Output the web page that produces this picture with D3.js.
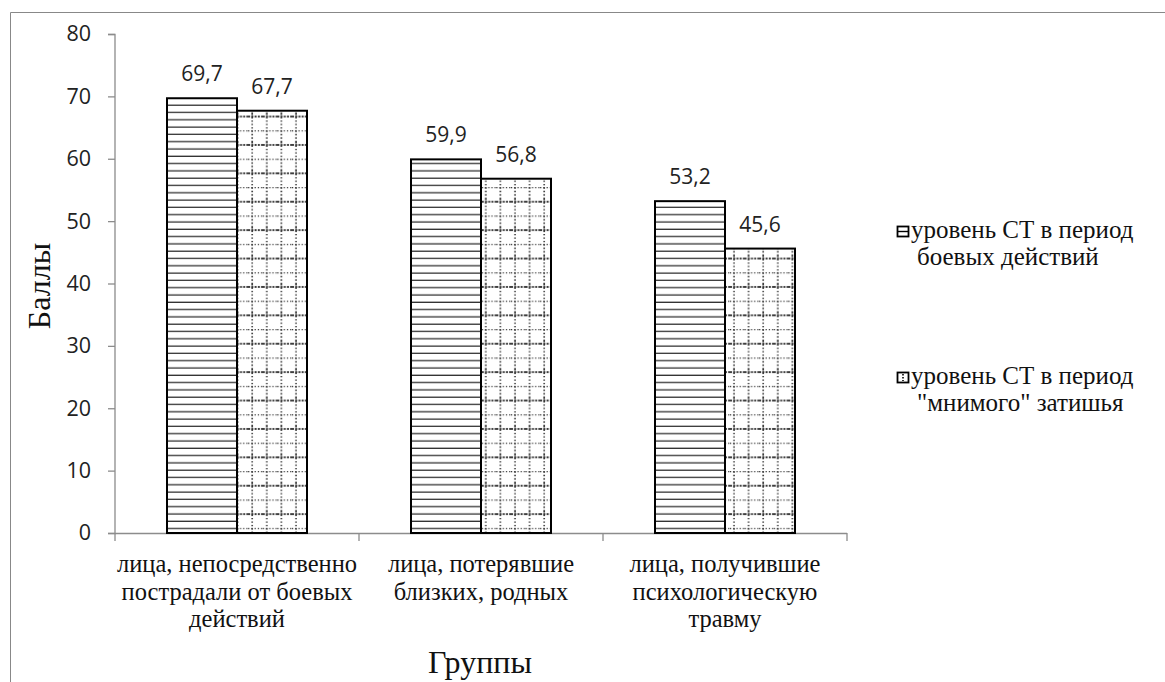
<!DOCTYPE html>
<html><head><meta charset="utf-8">
<script src="https://cdn.jsdelivr.net/npm/d3@7"></script>
<style>
body{margin:0;background:#fff}
.serif{font-family:"Liberation Serif","Times New Roman","DejaVu Serif","Noto Serif",serif}
.sans{font-family:"Open Sans","Liberation Sans",Arial,sans-serif}
</style>
</head><body>
<svg id="c" width="1165" height="682"></svg>
<script>
const categories = [
  ["лица, непосредственно","пострадали от боевых","действий"],
  ["лица, потерявшие","близких, родных"],
  ["лица, получившие","психологическую","травму"]
];
const seriesNames = [["уровень СТ в период","боевых действий"],["уровень СТ в период","\"мнимого\" затишья"]];
const combat = [69.7, 59.9, 53.2];
const lull = [67.7, 56.8, 45.6];
const yTicks = [0,10,20,30,40,50,60,70,80];

const svg = d3.select("#c");
const defs = svg.append("defs");
// horizontal stripes
const p1 = defs.append("pattern").attr("id","hstripe").attr("patternUnits","userSpaceOnUse").attr("width",8).attr("height",7.3);
p1.append("rect").attr("width",8).attr("height",7.3).attr("fill","#fff");
p1.append("line").attr("x1",0).attr("x2",8).attr("y1",3).attr("y2",3).attr("stroke","#333").attr("stroke-width",1.3);
// dotted grid
const PW = 14.6, PH = 28.4;
const p2 = defs.append("pattern").attr("id","dgrid").attr("patternUnits","userSpaceOnUse").attr("width",PW).attr("height",PH);
p2.append("rect").attr("width",PW).attr("height",PH).attr("fill","#fff");
p2.append("line").attr("x1",0).attr("x2",PW).attr("y1",3).attr("y2",3).attr("stroke","#000").attr("stroke-width",1.4).attr("stroke-dasharray","2,1.2");
p2.append("line").attr("x1",0).attr("x2",PW).attr("y1",17.2).attr("y2",17.2).attr("stroke","#333").attr("stroke-width",1.2).attr("stroke-dasharray","1.2,2");
p2.append("line").attr("x1",4).attr("x2",4).attr("y1",0).attr("y2",PH).attr("stroke","#111").attr("stroke-width",1.4).attr("stroke-dasharray","1.4,2");

// outer border
svg.append("path").attr("d","M10.5,1000 V12.5 H2000").attr("fill","none").attr("stroke","#888").attr("stroke-width",1);

const x0 = d3.scaleBand().domain(d3.range(categories.length)).range([115,847]);
const y = d3.scaleLinear().domain([0,80]).range([533,34]);
const barW = 70;

// y axis
const yAxis = d3.axisLeft(y).tickValues(yTicks).tickSize(7).tickPadding(17);
const gy = svg.append("g").attr("transform","translate(115,0)").call(yAxis);
gy.selectAll("line,path").attr("stroke","#8c8c8c").attr("stroke-width",1.3);
gy.select(".domain").attr("d","M-7,34.5H0V533.5H-7");
gy.selectAll("text").attr("class","sans").attr("font-family",null).attr("font-size",21.5).attr("fill","#222");

// x axis
svg.append("line").attr("x1",115).attr("x2",847).attr("y1",533.5).attr("y2",533.5).attr("stroke","#8c8c8c").attr("stroke-width",1.3);
const bounds = d3.range(categories.length+1).map(i=> i<categories.length ? x0(i) : x0(i-1)+x0.bandwidth());
svg.selectAll(".xt").data(bounds).enter().append("line")
  .attr("x1",d=>d).attr("x2",d=>d).attr("y1",533).attr("y2",541).attr("stroke","#8c8c8c").attr("stroke-width",1.3);

// bars
const cx = i => x0(i)+x0.bandwidth()/2;
const g = svg.append("g");
g.selectAll(".b1").data(combat).enter().append("rect")
  .attr("x",(d,i)=>cx(i)-barW).attr("y",d=>y(d)).attr("width",barW).attr("height",d=>y(0)-y(d))
  .attr("fill","url(#hstripe)").attr("stroke","#000").attr("stroke-width",2);
g.selectAll(".b2").data(lull).enter().append("rect")
  .attr("x",(d,i)=>cx(i)).attr("y",d=>y(d)).attr("width",barW).attr("height",d=>y(0)-y(d))
  .attr("fill","url(#dgrid)").attr("stroke","#000").attr("stroke-width",2);

// data labels
const fmt = v => v.toFixed(1).replace(".",",");
g.selectAll(".l1").data(combat).enter().append("text").attr("class","sans")
  .attr("x",(d,i)=>cx(i)-barW/2).attr("y",d=>y(d)-17).attr("text-anchor","middle")
  .attr("font-size",21).attr("fill","#222").text(fmt);
g.selectAll(".l2").data(lull).enter().append("text").attr("class","sans")
  .attr("x",(d,i)=>cx(i)+barW/2).attr("y",d=>y(d)-17).attr("text-anchor","middle")
  .attr("font-size",21).attr("fill","#222").text(fmt);

// category labels
categories.forEach((lines,i)=>{
  const t = svg.append("text").attr("class","serif").attr("text-anchor","middle").attr("font-size",24.5).attr("fill","#111");
  lines.forEach((ln,j)=> t.append("tspan").attr("x",cx(i)).attr("y",572+j*27.5).text(ln));
});

// axis titles
svg.append("text").attr("class","serif").attr("transform","translate(50,286) rotate(-90)").attr("text-anchor","middle")
  .attr("font-size",32).attr("fill","#111").text("Баллы");
svg.append("text").attr("class","serif").attr("x",480).attr("y",673).attr("text-anchor","middle")
  .attr("font-size",32).attr("fill","#111").text("Группы");

// legend
const legY = [231, 377];
seriesNames.forEach((lines,i)=>{
  svg.append("rect").attr("x",897.5).attr("y",legY[i]-4.5).attr("width",11).attr("height",10)
    .attr("fill","#fff").attr("stroke","#000").attr("stroke-width",1.8);
  if(i===0){
    svg.append("line").attr("x1",898).attr("x2",908).attr("y1",legY[i]+0.5).attr("y2",legY[i]+0.5).attr("stroke","#000").attr("stroke-width",1.4);
  } else {
    svg.append("line").attr("x1",903).attr("x2",903).attr("y1",legY[i]-3).attr("y2",legY[i]+4).attr("stroke","#000").attr("stroke-width",1.6).attr("stroke-dasharray","1.5,1.5");
  }
  const t = svg.append("text").attr("class","serif").attr("font-size",25).attr("fill","#111");
  t.append("tspan").attr("x",911).attr("y",legY[i]+7).text(lines[0]);
  t.append("tspan").attr("x",917).attr("y",legY[i]+34).text(lines[1]);
});
</script>
</body></html>
